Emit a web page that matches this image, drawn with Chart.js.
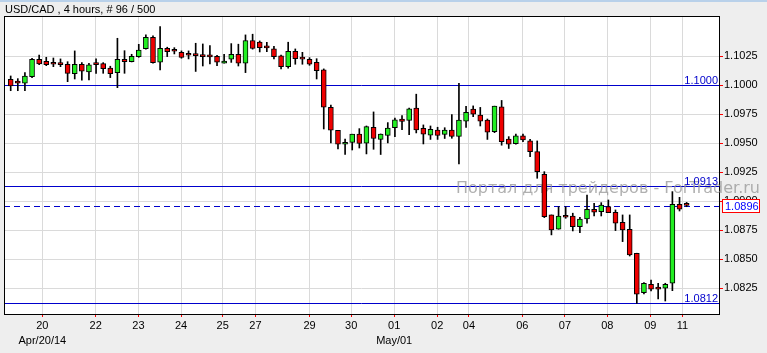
<!DOCTYPE html>
<html><head><meta charset="utf-8">
<script src="https://cdn.jsdelivr.net/npm/chart.js@4/dist/chart.umd.min.js"></script>
<style>html,body{margin:0;padding:0;background:#eeeeee;overflow:hidden}#wrap{width:767px;height:353px}</style>
</head><body><div id="wrap"><canvas id="c" width="767" height="353"></canvas></div>
<script>
const titleText = 'USD/CAD , 4 hours, # 96 / 500';
const opens = [1.10052,1.10037,1.10017,1.10074,1.10224,1.10207,1.10190,1.10186,1.10181,1.10100,
1.10181,1.10115,1.10181,1.10186,1.10149,1.10109,1.10224,1.10203,1.10247,1.10316,
1.10414,1.10198,1.10319,1.10296,1.10284,1.10261,1.10259,1.10250,1.10247,1.10250,
1.10190,1.10224,1.10267,1.10190,1.10386,1.10373,1.10326,1.10313,1.10253,1.10160,
1.10293,1.10229,1.10224,1.10198,1.10132,1.09810,1.09612,1.09491,1.09507,1.09578,
1.09500,1.09638,1.09534,1.09567,1.09634,1.09709,1.09697,1.09803,1.09629,1.09569,
1.09613,1.09576,1.09613,1.09559,1.09690,1.09794,1.09742,1.09699,1.09600,1.09813,
1.09535,1.09497,1.09563,1.09520,1.09428,1.09233,1.08882,1.08759,1.08871,1.08873,
1.08781,1.08847,1.08931,1.08910,1.08953,1.08905,1.08819,1.08759,1.08552,1.08212,
1.08284,1.08259,1.08250,1.08293,1.08974,1.08982];
const highs = [1.10080,1.10057,1.10109,1.10233,1.10261,1.10241,1.10235,1.10227,1.10203,1.10296,
1.10195,1.10190,1.10227,1.10195,1.10164,1.10405,1.10298,1.10267,1.10353,1.10434,
1.10425,1.10505,1.10328,1.10324,1.10296,1.10296,1.10362,1.10356,1.10341,1.10259,
1.10267,1.10359,1.10354,1.10434,1.10440,1.10382,1.10371,1.10336,1.10261,1.10371,
1.10313,1.10284,1.10238,1.10229,1.10141,1.09830,1.09612,1.09535,1.09578,1.09626,
1.09649,1.09770,1.09580,1.09678,1.09718,1.09738,1.09804,1.09923,1.09658,1.09649,
1.09638,1.09634,1.09747,1.10017,1.09819,1.09822,1.09809,1.09709,1.09820,1.09869,
1.09557,1.09580,1.09580,1.09534,1.09520,1.09255,1.08882,1.08953,1.08953,1.08897,
1.08862,1.09054,1.08983,1.08988,1.09011,1.08925,1.08882,1.08882,1.08552,1.08298,
1.08321,1.08293,1.08293,1.09083,1.09034,1.08990];
const lows = [1.09953,1.09953,1.09953,1.10066,1.10178,1.10169,1.10160,1.10160,1.10031,1.10054,
1.10043,1.10046,1.10103,1.10103,1.10066,1.09979,1.10103,1.10201,1.10241,1.10310,
1.10190,1.10132,1.10247,1.10270,1.10233,1.10227,1.10119,1.10166,1.10184,1.10169,
1.10190,1.10197,1.10166,1.10109,1.10311,1.10287,1.10290,1.10227,1.10141,1.10147,
1.10181,1.10181,1.10172,1.10054,1.09623,1.09503,1.09451,1.09403,1.09442,1.09459,
1.09408,1.09448,1.09403,1.09503,1.09557,1.09617,1.09574,1.09589,1.09494,1.09533,
1.09533,1.09541,1.09543,1.09322,1.09636,1.09729,1.09649,1.09533,1.09591,1.09483,
1.09455,1.09491,1.09513,1.09384,1.09198,1.08859,1.08710,1.08759,1.08853,1.08744,
1.08729,1.08810,1.08873,1.08873,1.08902,1.08747,1.08652,1.08528,1.08120,1.08201,
1.08227,1.08158,1.08140,1.08229,1.08916,1.08953];
const closes = [1.09994,1.10017,1.10078,1.10224,1.10184,1.10178,1.10181,1.10178,1.10103,1.10181,
1.10121,1.10175,1.10178,1.10143,1.10100,1.10224,1.10203,1.10250,1.10304,1.10414,
1.10195,1.10319,1.10290,1.10293,1.10241,1.10259,1.10255,1.10247,1.10244,1.10198,
1.10209,1.10267,1.10190,1.10386,1.10317,1.10324,1.10322,1.10247,1.10160,1.10293,
1.10229,1.10225,1.10181,1.10126,1.09810,1.09612,1.09492,1.09509,1.09578,1.09498,
1.09643,1.09541,1.09578,1.09630,1.09701,1.09688,1.09796,1.09615,1.09578,1.09621,
1.09567,1.09613,1.09559,1.09699,1.09767,1.09750,1.09690,1.09595,1.09820,1.09514,
1.09491,1.09563,1.09528,1.09428,1.09255,1.08867,1.08753,1.08873,1.08862,1.08781,
1.08847,1.08931,1.08905,1.08968,1.08902,1.08810,1.08753,1.08537,1.08198,1.08293,
1.08241,1.08241,1.08284,1.08974,1.08931,1.08965];
const dayTickIndex = [4.45,11.95,17.95,23.95,29.8,34.4,42,47.85,53.9,59.95,64.4,71.9,77.9,83.85,89.9,94.4];
const dayTickLabels = ['20','22','23','24','25','27','29','30','01','02','04','06','07','08','09','11'];
const monthLabels = {0:'Apr/20/14', 8:'May/01'};
const yTickValues = [1.0825,1.0850,1.0875,1.0900,1.0925,1.0950,1.0975,1.1000,1.1025];
const levelValues = [1.1000,1.0913,1.0812];
const levelLabels = ['1.1000','1.0913','1.0812'];
const currentPrice = 1.0896;
const currentLabel = '1.0896';
const watermark = 'Портал для трейдеров - ForTrader.ru';
const yMin = 1.08028, yMax = 1.10597;
const xMin = -0.94, xMax = 99.55;

const FONT = '"Liberation Sans", Arial, sans-serif';
const BLUE = '#0000cc';
const idx = opens.map((_, i) => i);
const up = idx.map(i => closes[i] >= opens[i]);

const decor = {
  id: 'decor',
  beforeDraw(chart) {
    const c = chart.ctx, a = chart.chartArea;
    c.save();
    c.fillStyle = '#eeeeee'; c.fillRect(0, 0, chart.width, chart.height);
    c.fillStyle = '#b9d1ea'; c.fillRect(0, 0, chart.width, 2);
    c.fillStyle = '#ffffff'; c.fillRect(a.left, a.top, a.right - a.left, a.bottom - a.top);
    c.fillStyle = '#000'; c.font = '11px ' + FONT; c.textBaseline = 'alphabetic'; c.textAlign = 'left';
    c.fillText(titleText, 5, 13);
    c.restore();
  },
  beforeDatasetsDraw(chart) {
    const c = chart.ctx, a = chart.chartArea, ys = chart.scales.y;
    c.save();
    c.strokeStyle = BLUE; c.lineWidth = 1;
    levelValues.forEach(v => {
      const y = Math.round(ys.getPixelForValue(v)) + 0.5;
      c.beginPath(); c.moveTo(a.left, y); c.lineTo(a.right, y); c.stroke();
    });
    const yc = Math.round(ys.getPixelForValue(currentPrice)) + 0.5;
    c.setLineDash([6, 4]);
    c.beginPath(); c.moveTo(a.left, yc); c.lineTo(a.right, yc); c.stroke();
    c.setLineDash([]);
    c.fillStyle = 'rgba(150,150,150,0.75)';
    c.font = '16px "DejaVu Sans", sans-serif'; c.textAlign = 'right'; c.textBaseline = 'alphabetic';
    c.fillText(watermark, 760, 193);
    c.restore();
  },
  afterDraw(chart) {
    const c = chart.ctx, a = chart.chartArea, ys = chart.scales.y;
    c.save();
    c.fillStyle = '#000';
    c.fillRect(a.left, a.top, a.right - a.left, 1);
    c.fillRect(a.left, a.top, 1, a.bottom - a.top);
    c.fillStyle = BLUE; c.font = '11px ' + FONT; c.textAlign = 'right'; c.textBaseline = 'bottom';
    levelValues.forEach((v, i) => {
      const y = Math.round(ys.getPixelForValue(v));
      c.fillText(levelLabels[i], a.right - 1, y + 1);
    });
    const yc = Math.round(ys.getPixelForValue(currentPrice));
    c.fillStyle = '#ffffff';
    c.fillRect(a.right + 3, yc - 7, 38, 14);
    c.strokeStyle = '#ff0000'; c.lineWidth = 1;
    c.strokeRect(a.right + 3.5, yc - 6.5, 37, 13);
    c.fillStyle = '#0000ff'; c.textAlign = 'left'; c.textBaseline = 'middle';
    c.fillText(currentLabel, a.right + 6, yc + 1);
    c.restore();
  }
};

new Chart(document.getElementById('c'), {
  type: 'bar',
  data: {
    datasets: [
      {
        data: idx.map(i => ({ x: i, y: [opens[i], closes[i]] })),
        backgroundColor: up.map(u => u ? '#22ee22' : '#ee0000'),
        borderColor: '#000000', borderWidth: 1, borderSkipped: false,
        barThickness: 5, maxBarThickness: 5, minBarLength: 2, grouped: false, order: 0
      },
      {
        data: idx.map(i => ({ x: i, y: [lows[i], highs[i]] })),
        backgroundColor: '#000000', borderWidth: 0,
        barThickness: 1, maxBarThickness: 1, grouped: false, order: 1
      }
    ]
  },
  options: {
    responsive: false, animation: false, devicePixelRatio: 1,
    layout: { padding: { left: 4, top: 16, right: 0, bottom: 0 } },
    plugins: { legend: { display: false }, tooltip: { enabled: false } },
    scales: {
      x: {
        type: 'linear', min: xMin, max: xMax, offset: false,
        afterBuildTicks: s => { s.ticks = dayTickIndex.map(v => ({ value: v })); },
        afterFit: s => { s.height = 39; },
        ticks: {
          autoSkip: false, maxRotation: 0, minRotation: 0, padding: 1, color: '#000',
          font: { family: FONT, size: 11, lineHeight: 1.4 },
          callback: (v, i) => monthLabels[i] ? [dayTickLabels[i], monthLabels[i]] : dayTickLabels[i]
        },
        grid: { offset: false, color: '#dadada', tickColor: '#ff0000', tickLength: 3, lineWidth: 1 },
        border: { display: true, color: '#000', width: 1 }
      },
      y: {
        type: 'linear', position: 'right', min: yMin, max: yMax,
        afterBuildTicks: s => { s.ticks = yTickValues.map(v => ({ value: v })); },
        afterFit: s => { s.width = 48; },
        ticks: { padding: 1, color: '#000', font: { family: FONT, size: 11 }, callback: v => Number(v).toFixed(4) },
        grid: { color: '#dadada', tickColor: '#ff0000', tickLength: 4, lineWidth: 1 },
        border: { display: true, color: '#000', width: 1 }
      }
    }
  },
  plugins: [decor]
});
</script>
</body></html>
